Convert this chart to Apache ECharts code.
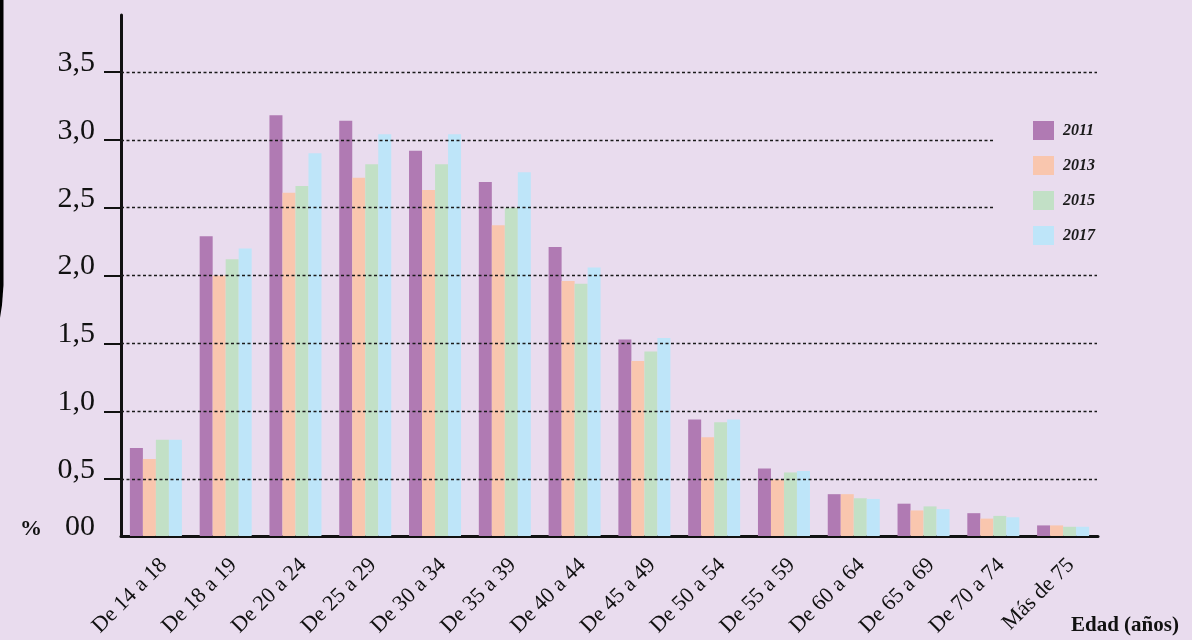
<!DOCTYPE html>
<html>
<head>
<meta charset="utf-8">
<script src="https://cdn.jsdelivr.net/npm/echarts@6/dist/echarts.min.js"></script>
<style>
html,body{margin:0;padding:0;background:#e9dcee;}
#chart{width:1192px;height:640px;}
</style>
</head>
<body>
<div id="chart"></div>
<script>
const categories = ['De 14 a 18','De 18 a 19','De 20 a 24','De 25 a 29','De 30 a 34','De 35 a 39','De 40 a 44','De 45 a 49','De 50 a 54','De 55 a 59','De 60 a 64','De 65 a 69','De 70 a 74','Más de 75'];
const years = ['2011','2013','2015','2017'];
const v2011 = [0.73,2.29,3.18,3.14,2.92,2.69,2.21,1.53,0.94,0.58,0.39,0.32,0.25,0.16];
const v2013 = [0.65,2.00,2.61,2.72,2.63,2.37,1.96,1.37,0.81,0.50,0.39,0.27,0.21,0.16];
const v2015 = [0.79,2.12,2.66,2.82,2.82,2.50,1.94,1.44,0.92,0.55,0.36,0.30,0.23,0.15];
const v2017 = [0.79,2.20,2.90,3.04,3.04,2.76,2.06,1.54,0.94,0.56,0.355,0.28,0.22,0.15];
const tickValues = [0.5,1.0,1.5,2.0,2.5,3.0,3.5];
const shortGridValues = [2.5,3.0];
const yMin = 0.082, yMax = 3.919;

const colors = ['#b07ab3','#f9c6ae','#c2e0c6','#bee5f9'];
const FONT = "'Liberation Serif','DejaVu Serif',serif";

const gridLines = tickValues.map(v => [
  {xAxis: 0, yAxis: v, x: 121},
  {xAxis: 0, yAxis: v, x: shortGridValues.indexOf(v) >= 0 ? 994 : 1097}
]);

const seriesData = [v2011, v2013, v2015, v2017];
const series = seriesData.map((d, i) => {
  const s = {
    name: years[i],
    type: 'bar',
    data: d,
    barWidth: 13,
    barGap: '0%',
    itemStyle: {color: colors[i]},
    silent: true
  };
  if (i === 3) {
    s.markLine = {
      silent: true,
      symbol: ['none','none'],
      label: {show: false},
      lineStyle: {color: '#1a1a1a', width: 1.3, type: [3, 2.5], opacity: 1},
      data: gridLines,
      animation: false
    };
  }
  return s;
});

const chart = echarts.init(document.getElementById('chart'));
chart.setOption({
  backgroundColor: '#e9dcee',
  animation: false,
  textStyle: {fontFamily: FONT},
  grid: {left: 121, right: 94, top: 15, bottom: 104, containLabel: false, outerBoundsMode: 'none'},
  legend: {
    orient: 'vertical',
    left: 1028,
    top: 116,
    itemWidth: 21,
    itemHeight: 19,
    itemGap: 16,
    icon: 'rect',
    data: years,
    textStyle: {fontFamily: FONT, fontStyle: 'italic', fontWeight: 'bold', fontSize: 16, color: '#1a1a1a', padding: [0,0,0,4]}
  },
  xAxis: {
    type: 'category',
    data: categories,
    axisLine: {show: true, lineStyle: {color: '#111', width: 3}},
    axisTick: {show: false},
    axisLabel: {
      rotate: 45,
      interval: 0,
      margin: 18,
      verticalAlign: 'top',
      fontFamily: FONT,
      fontSize: 22,
      color: '#111'
    },
    splitLine: {show: false}
  },
  yAxis: {
    type: 'value',
    min: yMin,
    max: yMax,
    axisLine: {show: true, lineStyle: {color: '#111', width: 3}},
    axisTick: {show: true, inside: false, length: 17, lineStyle: {color: '#111', width: 2}, customValues: tickValues},
    axisLabel: {
      customValues: [yMin].concat(tickValues),
      margin: 26,
      fontFamily: FONT,
      fontSize: 30,
      color: '#111',
      verticalAlign: 'bottom',
      lineHeight: 18,
      formatter: v => (v < 0.2 ? '00' : v.toFixed(1).replace('.', ','))
    },
    splitLine: {show: false}
  },
  graphic: [
    {type: 'polygon', silent: true, shape: {points: [[0,0],[3.5,0],[3.5,285],[2,305],[0,318]]}, style: {fill: '#000'}},
    {type: 'text', left: 20, top: 518, silent: true, style: {text: '%', font: "bold 22px 'Liberation Serif', serif", fill: '#111'}},
    {type: 'text', left: 1071, top: 615, silent: true, style: {text: 'Edad (años)', font: "bold 21px 'Liberation Serif', serif", fill: '#111'}}
  ],
  series: series
});
</script>
</body>
</html>
